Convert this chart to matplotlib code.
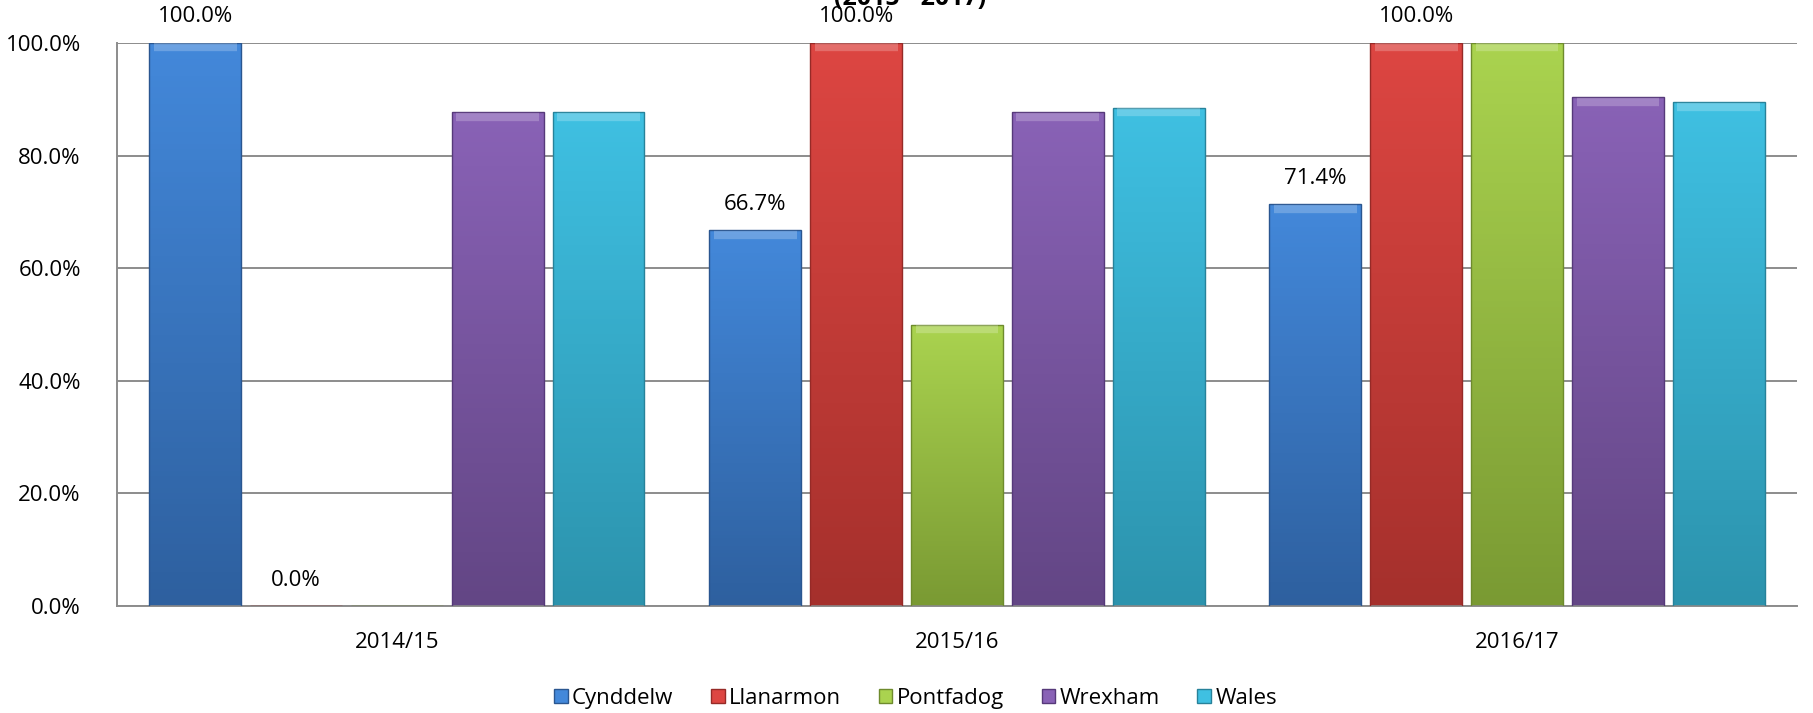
import numpy as np
import matplotlib.pyplot as plt
from matplotlib.colors import LinearSegmentedColormap
from matplotlib.patches import Patch

# dados do grafico
anos = ['2014/15', '2015/16', '2016/17']
series = ['Cynddelw', 'Llanarmon', 'Pontfadog', 'Wrexham', 'Wales']
cynddelw = [100.0, 66.7, 71.4]
llanarmon = [0.0, 100.0, 100.0]
pontfadog = [np.nan, 50.0, 100.0]
wrexham = [87.7, 87.7, 90.4]
wales = [87.7, 88.5, 89.5]
valores = [cynddelw, llanarmon, pontfadog, wrexham, wales]
com_rotulo = ['Cynddelw', 'Llanarmon']

# cores (topo claro, base escura)
cores_topo = ['#4388DA', '#DD4642', '#AAD34F', '#8962B6', '#3FC0E2']
cores_base = ['#2E609F', '#A5302C', '#7A9A33', '#634685', '#2C93AD']
cores_borda = ['#2A5690', '#962A27', '#6E8B2D', '#56397A', '#27829A']

plt.rcParams['font.family'] = ['Open Sans', 'DejaVu Sans']

fig = plt.figure(figsize=(18.13, 7.13), dpi=100)
ax = fig.add_axes([0.0645, 0.150, 0.9267, 0.7897])

x = np.arange(len(anos))
passo = 0.18
largura = 0.164

for i, nome in enumerate(series):
    pos = x + (i - 2) * passo
    vals = np.array(valores[i], dtype=float)
    barras = ax.bar(pos, np.nan_to_num(vals), largura, facecolor='none',
                    edgecolor=cores_borda[i], linewidth=1.0, zorder=3)
    cmap = LinearSegmentedColormap.from_list(nome, [cores_base[i], cores_topo[i]])
    for b, v in zip(barras, vals):
        if np.isnan(v) or v <= 0:
            continue
        bx, bw, bh = b.get_x(), b.get_width(), b.get_height()
        grad = np.linspace(0, 1, 100).reshape(-1, 1)
        im = ax.imshow(grad, cmap=cmap, origin='lower', aspect='auto',
                       extent=[bx, bx + bw, 0, bh], zorder=2)
        im.set_clip_path(b)
        # faixa clara no topo (bisel)
        ax.plot([bx + bw * 0.05, bx + bw * 0.95], [bh - 0.8, bh - 0.8],
                color='white', alpha=0.22, linewidth=6, zorder=4,
                solid_capstyle='butt')
    if nome in com_rotulo:
        for p, v in zip(pos, vals):
            if np.isnan(v):
                continue
            ax.annotate(f'{v:.1f}%', (p, v), xytext=(0, 26),
                        textcoords='offset pixels', ha='center', va='center',
                        fontsize=16, color='black', zorder=5,
                        annotation_clip=False)

ax.set_xlim(-0.5, 2.5)
ax.set_ylim(0, 100)
ax.set_yticks([0, 20, 40, 60, 80, 100])
ax.set_yticklabels([f'{t:.1f}%' for t in [0, 20, 40, 60, 80, 100]])
ax.set_xticks(x)
ax.set_xticklabels(anos)
ax.tick_params(axis='y', length=0, pad=26, labelsize=16)
ax.tick_params(axis='x', length=0, pad=19, labelsize=16)
ax.yaxis.grid(True, color='#8C8C8C', linewidth=1.4)
ax.set_axisbelow(True)
for s in ['top', 'right']:
    ax.spines[s].set_visible(False)
ax.spines['left'].set_color('#8C8C8C')
ax.spines['bottom'].set_color('#8C8C8C')
ax.spines['left'].set_linewidth(1.4)
ax.spines['bottom'].set_linewidth(1.4)

# titulo cortado no topo
fig.text(0.502, 0.993, '(2015 - 2017)', ha='center', va='baseline',
         fontsize=18, fontweight='bold')

handles = [Patch(facecolor=cores_topo[i], edgecolor=cores_borda[i]) for i in range(len(series))]
fig.legend(handles, series, loc='center', bbox_to_anchor=(0.505, 0.021),
           ncol=5, frameon=False, fontsize=16, handlelength=0.6,
           handleheight=0.6, handletextpad=0.2, columnspacing=1.7)

fig.savefig('out.png', dpi=100)
